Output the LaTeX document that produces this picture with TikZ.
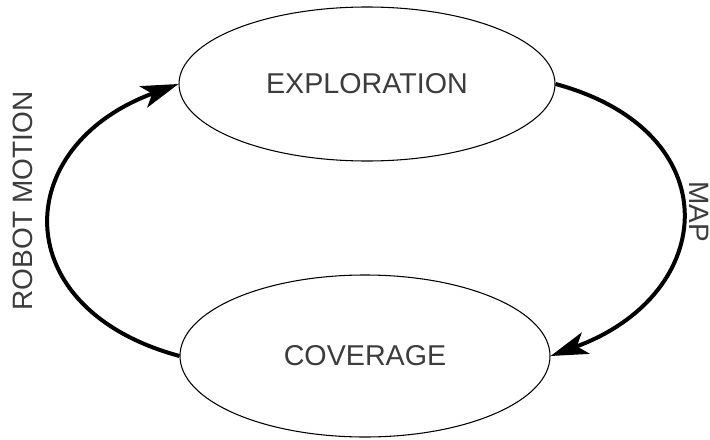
\documentclass[tikz,border=0pt]{standalone}
\usepackage{fontspec}
\setmainfont{Liberation Sans}
\usetikzlibrary{shapes.geometric,arrows.meta}
\definecolor{labelgray}{HTML}{3C3C3C}
\begin{document}
\begin{tikzpicture}[
                x=0.75pt, y=-0.75pt,
                phase/.style={
                    draw=black,
                    ellipse,
                    line width=0.8pt,
                    inner sep=0pt,
                    text=labelgray,
                    font=\fontsize{21.5}{25}\selectfont
                },
                looplabel/.style={
                    text=labelgray,
                    inner sep=0pt,
                    font=\fontsize{21}{25}\selectfont
                },
                flow/.style={
                    -{Stealth[length=28pt,width=17pt,inset=7pt]},
                    line width=3pt,
                    draw=black
                }
            ]
                \useasboundingbox (0,0) rectangle (710,439);

                \node[phase, minimum width=282pt, minimum height=115.5pt] (explore) at (367,84) {EXPLORATION};
                \node[phase, minimum width=277.5pt, minimum height=121.5pt] (cover) at (365,356) {COVERAGE};

                \node[looplabel, rotate=90] (motion) at (23,201) {ROBOT MOTION};
                \node[looplabel, rotate=-90] (map) at (699,212) {MAP};

                \draw[flow] (cover.west) .. controls +(-174,-47) and +(-169,62) .. (explore.west);
                \draw[flow] (explore.east) .. controls +(174,47) and +(169,-62) .. (cover.east);
        \end{tikzpicture}
\end{document}
